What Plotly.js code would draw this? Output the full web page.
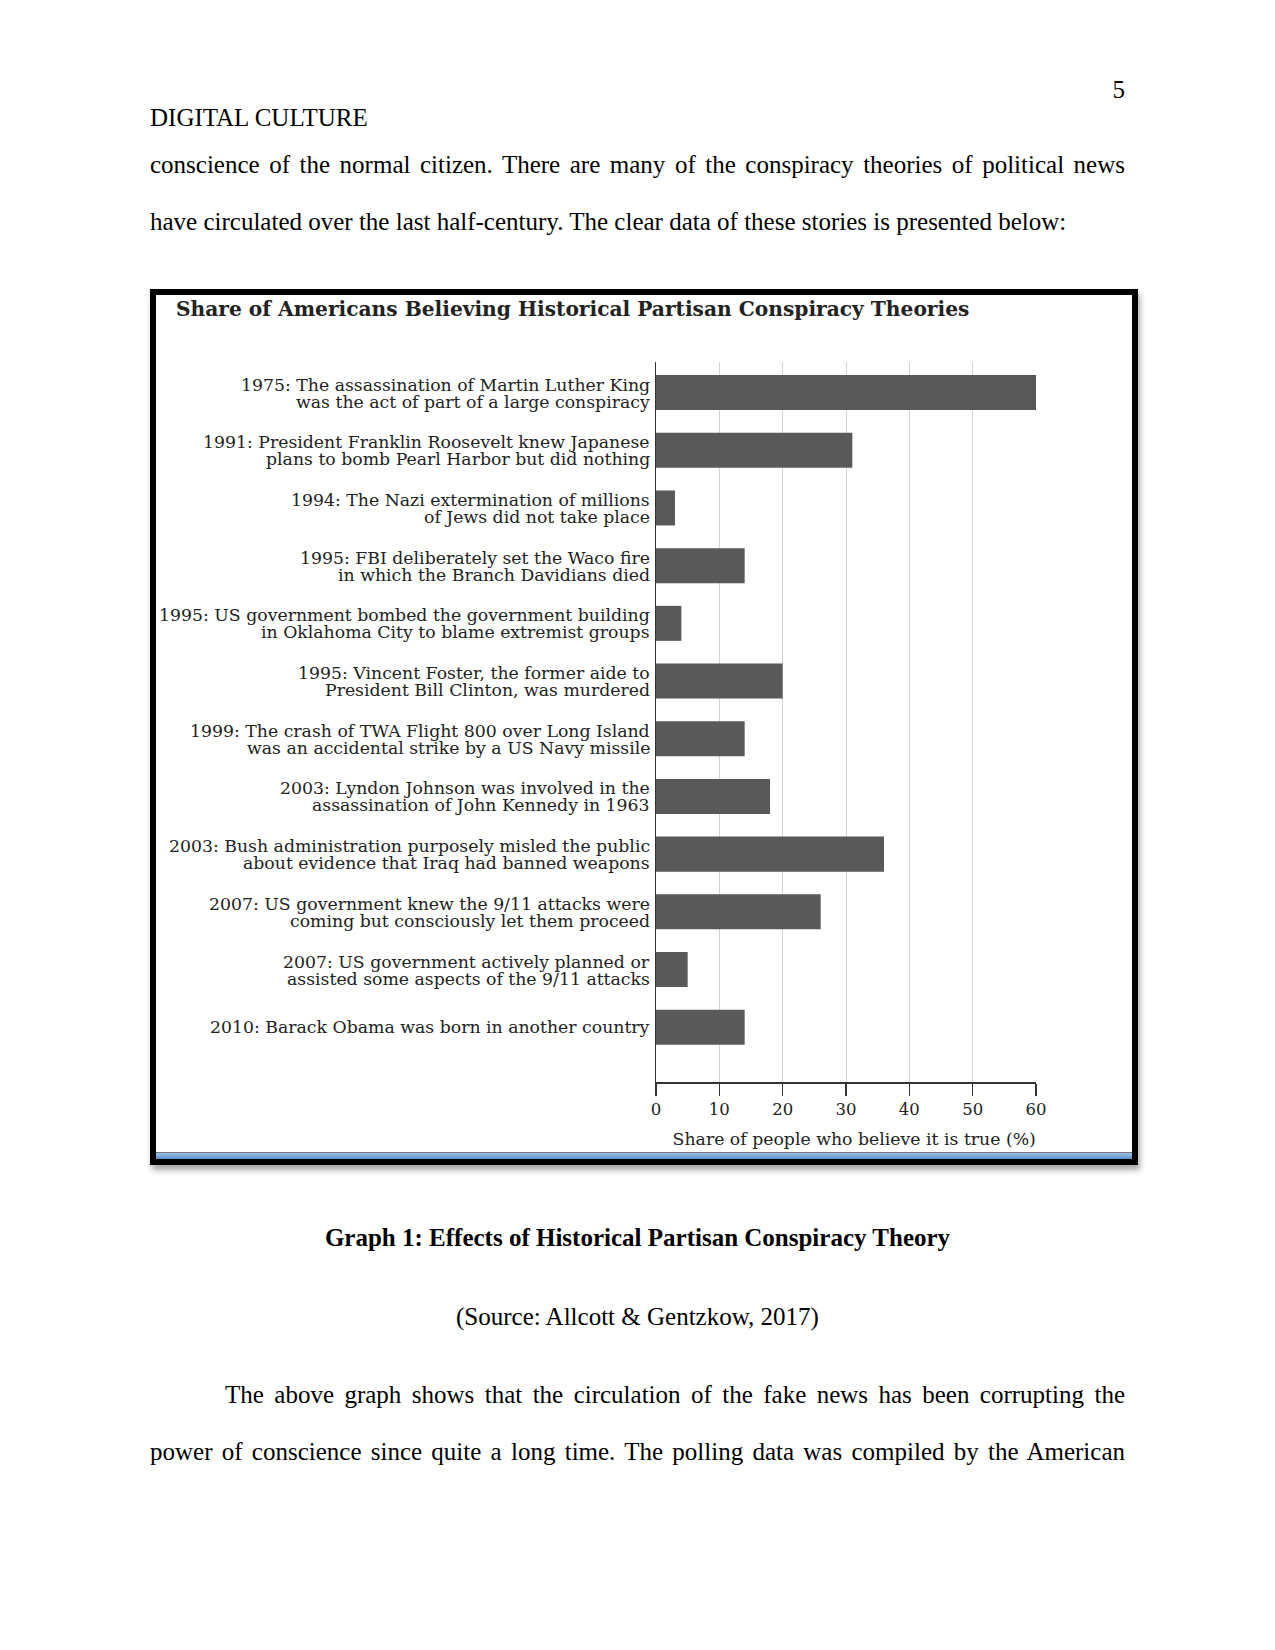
<!DOCTYPE html>
<html>
<head>
<meta charset="utf-8">
<script src="https://cdn.plot.ly/plotly-3.0.1.min.js"></script>
<style>
  html, body { margin: 0; padding: 0; background: #fff; }
  body { position: relative; width: 1275px; height: 1650px; overflow: hidden;
         font-family: "Liberation Serif", "Times New Roman", serif; font-size: 25px; color: #000; }
  .ln { position: absolute; line-height: 30px; white-space: nowrap; }
  .just { width: 975px; white-space: normal; text-align: justify; text-align-last: justify; }
  #frame { position: absolute; left: 150px; top: 289px; width: 988px; height: 876px;
           box-sizing: border-box; border: 6px solid #000; background: #fff;
           box-shadow: 2px 5px 6px rgba(0, 0, 0, 0.35); }
  #plot { position: absolute; left: 0; top: 0; width: 976px; height: 864px; }
  #strip { position: absolute; left: 0; right: 0; bottom: 0; height: 6px; z-index: 5;
           border-top: 1px solid #6f7780; background: linear-gradient(#9cc0e4, #5a93cc); }
</style>
</head>
<body>

<div class="ln" style="left:1000px; width:125px; text-align:right; top:75px;">5</div>
<div class="ln" style="left:150px; top:103px;">DIGITAL CULTURE</div>
<div class="ln just" style="left:150px; top:150px;">conscience of the normal citizen. There are many of the conspiracy theories of political news</div>
<div class="ln" style="left:150px; top:207px;">have circulated over the last half-century. The clear data of these stories is presented below:</div>

<div id="frame">
  <div id="plot"></div>
  <div id="strip"></div>
</div>

<div class="ln" style="left:0; width:1275px; text-align:center; top:1223px; font-weight:bold;">Graph 1: Effects of Historical Partisan Conspiracy Theory</div>
<div class="ln" style="left:0; width:1275px; text-align:center; top:1302px;">(Source: Allcott &amp; Gentzkow, 2017)</div>
<div class="ln just" style="left:225px; width:900px; top:1380px;">The above graph shows that the circulation of the fake news has been corrupting the</div>
<div class="ln just" style="left:150px; top:1437px;">power of conscience since quite a long time. The polling data was compiled by the American</div>

<script>
// label text, first and second line of each theory
var topLines = [
  "1975: The assassination of Martin Luther King",
  "1991: President Franklin Roosevelt knew Japanese",
  "1994: The Nazi extermination of millions",
  "1995: FBI deliberately set the Waco fire",
  "1995: US government bombed the government building",
  "1995: Vincent Foster, the former aide to",
  "1999: The crash of TWA Flight 800 over Long Island",
  "2003: Lyndon Johnson was involved in the",
  "2003: Bush administration purposely misled the public",
  "2007: US government knew the 9/11 attacks were",
  "2007: US government actively planned or",
  "2010: Barack Obama was born in another country"
];
var bottomLines = [
  "was the act of part of a large conspiracy",
  "plans to bomb Pearl Harbor but did nothing",
  "of Jews did not take place",
  "in which the Branch Davidians died",
  "in Oklahoma City to blame extremist groups",
  "President Bill Clinton, was murdered",
  "was an accidental strike by a US Navy missile",
  "assassination of John Kennedy in 1963",
  "about evidence that Iraq had banned weapons",
  "coming but consciously let them proceed",
  "assisted some aspects of the 9/11 attacks",
  ""
];
// share of people who believe it is true (%)
var shares = [60, 31, 3, 14, 4, 20, 14, 18, 36, 26, 5, 14];
var xTicks = [0, 10, 20, 30, 40, 50, 60];

var categories = topLines.map(function(t, i) {
  return (t + " " + bottomLines[i]).trim();
});

var serif = "DejaVu Serif, Liberation Serif, serif";
var ink = "#222";

var bars = {
  type: "bar",
  orientation: "h",
  y: categories,
  x: shares,
  width: 0.607,
  marker: { color: "#595959", line: { width: 0 } },
  hoverinfo: "x+y"
};

// the y tick labels are drawn one line per annotation so the leading stays tight
var labels = [];
categories.forEach(function(c, i) {
  var two = bottomLines[i] !== "";
  labels.push({
    xref: "paper", x: 0, xanchor: "right", xshift: -4,
    yref: "y", y: c, yshift: two ? 8 : 0,
    text: topLines[i], showarrow: false,
    font: { family: serif, size: 17.3, color: ink }
  });
  if (two) {
    labels.push({
      xref: "paper", x: 0, xanchor: "right", xshift: -4,
      yref: "y", y: c, yshift: -9,
      text: bottomLines[i], showarrow: false,
      font: { family: serif, size: 17.3, color: ink }
    });
  }
});

var layout = {
  width: 976,
  height: 864,
  paper_bgcolor: "#fff",
  plot_bgcolor: "#fff",
  margin: { l: 500, r: 96, t: 67, b: 77 },
  showlegend: false,
  title: {
    text: "<b>Share of Americans Believing Historical Partisan Conspiracy Theories</b>",
    font: { family: serif, size: 20.2, color: ink },
    xref: "container", x: 20 / 976, xanchor: "left",
    yref: "container", y: 1 - 14 / 864, yanchor: "middle"
  },
  xaxis: {
    range: [0, 60],
    tickvals: xTicks,
    ticktext: xTicks.map(String),
    ticks: "outside", ticklen: 12, tickwidth: 1.5, tickcolor: "#333",
    showline: true, linecolor: "#333", linewidth: 1.5,
    showgrid: true, gridcolor: "#d2d2d2", gridwidth: 1,
    zeroline: false,
    tickfont: { family: serif, size: 16.5, color: ink },
    title: {
      // leading spaces nudge the centred title a little to the right, as in the source
      text: "&nbsp;&nbsp;&nbsp;Share of people who believe it is true (%)",
      font: { family: serif, size: 17.3, color: ink },
      standoff: 14
    },
    fixedrange: true
  },
  yaxis: {
    type: "category",
    range: [11.95, -0.53],
    showticklabels: false,
    ticks: "",
    showline: true, linecolor: "#333", linewidth: 1.5,
    showgrid: false, zeroline: false,
    fixedrange: true
  },
  annotations: labels
};

Plotly.newPlot("plot", [bars], layout, { displayModeBar: false, staticPlot: true });
</script>
</body>
</html>
